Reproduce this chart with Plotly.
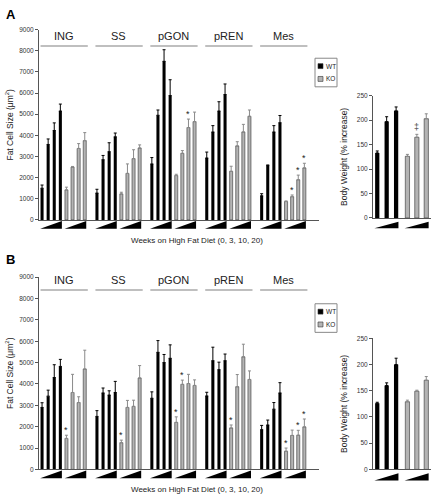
import plotly.graph_objects as go

W, H = 436, 501

groups = ["ING", "SS", "pGON", "pREN", "Mes"]
series_names = ["WT", "KO"]

# Panel A: fat cell size (um^2), 4 time points (0, 3, 10, 20 weeks)
A_wt = [[1500, 3570, 4230, 5150], [1270, 2850, 3230, 3930], [2650, 4950, 7500, 5880],
        [2930, 4160, 5150, 5930], [1140, 2570, 4160, 4600]]
A_wt_err = [[150, 260, 360, 330], [180, 200, 420, 180], [300, 250, 550, 750],
            [280, 300, 440, 500], [100, 30, 300, 340]]
A_ko = [[1420, 2500, 3380, 3750], [1230, 2200, 2900, 3400], [2100, 3150, 4370, 4650],
        [2300, 3500, 4160, 4900], [870, 1100, 1900, 2460]]
A_ko_err = [[130, 30, 230, 380], [80, 450, 420, 150], [60, 130, 400, 450],
            [240, 200, 360, 300], [30, 80, 220, 220]]
A_stars = [(2, 2), (4, 1), (4, 2), (4, 3)]  # (group, KO index)

# Panel B
B_wt = [[2900, 3430, 4300, 4820], [2480, 3580, 3480, 3600], [3330, 5480, 5000, 5200],
        [3440, 5090, 4670, 5090], [1860, 2080, 2820, 3580]]
B_wt_err = [[220, 280, 600, 330], [270, 230, 200, 520], [300, 550, 380, 630],
            [170, 630, 350, 310], [200, 230, 310, 480]]
B_ko = [[1450, 3600, 3130, 4700], [1250, 2900, 2950, 4280], [2200, 3980, 4020, 3930],
        [1940, 3870, 5270, 4210], [850, 1590, 1600, 1990]]
B_ko_err = [[150, 850, 270, 880], [120, 330, 290, 580], [260, 200, 430, 260],
            [140, 570, 590, 400], [150, 250, 230, 370]]
B_stars = [(0, 0), (1, 0), (2, 0), (2, 1), (3, 0), (4, 0), (4, 2), (4, 3)]

# Body weight (% increase), 3 time points
A_bw_wt, A_bw_wt_err = [133, 197, 219], [4, 10, 8]
A_bw_ko, A_bw_ko_err = [126, 165, 203], [4, 6, 10]
A_bw_marks = [(1, "‡")]
B_bw_wt, B_bw_wt_err = [126, 160, 200], [2, 5, 12]
B_bw_ko, B_bw_ko_err = [129, 149, 170], [3, 2, 7]
B_bw_marks = []

fat_ticks = list(range(0, 9001, 1000))
bw_ticks = list(range(0, 251, 50))
xlabel = "Weeks on High Fat Diet (0, 3, 10, 20)"
ylabel_fat = "Fat Cell Size (μm<sup>2</sup>)"
ylabel_bw = "Body Weight (% increase)"

FONT = "Liberation Sans, Arial, sans-serif"
WT_COL = "#000000"
KO_COL = "#b4b4b4"
AX_COL = "#555555"

GSTEP = 9
BW_KO_OFF = 3.2


def px_x(p):
    return p / W


def px_y(p):
    return 1 - p / H


fig = go.Figure()
shapes = []
annots = []

panels = [
    dict(wt=A_wt, wte=A_wt_err, ko=A_ko, koe=A_ko_err, stars=A_stars,
         bw=(A_bw_wt, A_bw_wt_err, A_bw_ko, A_bw_ko_err), bwm=A_bw_marks,
         ydom=(px_y(219), px_y(26)), bwdom=(px_y(217), px_y(93)),
         letter="A", ly=11, xt=240, leg=(315, 55),
         glab=8720, gline=8230),
    dict(wt=B_wt, wte=B_wt_err, ko=B_ko, koe=B_ko_err, stars=B_stars,
         bw=(B_bw_wt, B_bw_wt_err, B_bw_ko, B_bw_ko_err), bwm=B_bw_marks,
         ydom=(px_y(472), px_y(277)), bwdom=(px_y(472), px_y(339)),
         letter="B", ly=259, xt=492, leg=(315, 304),
         glab=8860, gline=8400),
]

layout_axes = {}
for pi, P in enumerate(panels):
    ia = 2 * pi + 1
    ib = 2 * pi + 2
    xn_a = "x" if ia == 1 else f"x{ia}"
    yn_a = "y" if ia == 1 else f"y{ia}"
    xn_b, yn_b = f"x{ib}", f"y{ib}"

    # main fat cell chart
    for s, (vals, errs, col, ecol) in enumerate([(P["wt"], P["wte"], WT_COL, "#000000"),
                                                  (P["ko"], P["koe"], KO_COL, "#8a8a8a")]):
        xs, ys, es = [], [], []
        for g in range(len(groups)):
            for i in range(4):
                xs.append(g * GSTEP + s * 4 + i)
                ys.append(vals[g][i])
                es.append(errs[g][i])
        fig.add_trace(go.Bar(
            x=xs, y=ys, width=0.5, name=series_names[s], showlegend=False,
            marker=dict(color=col, line=dict(color="#333333", width=0.6 if s else 0)),
            error_y=dict(type="data", array=es, arrayminus=[0] * len(es), symmetric=False,
                         color=ecol, thickness=1, width=1.5),
            hoverinfo="skip", xaxis=xn_a, yaxis=yn_a))

    # stars
    for (g, i) in P["stars"]:
        xv = g * GSTEP + 4 + i
        yv = P["ko"][g][i] + P["koe"][g][i]
        annots.append(dict(x=xv, y=yv, xref=xn_a, yref=yn_a, text="*", showarrow=False,
                           xanchor="center", yanchor="bottom", yshift=-2,
                           font=dict(family=FONT, size=9, color="#222")))

    # group labels and lines, wedges
    for g, name in enumerate(groups):
        x0 = g * GSTEP
        annots.append(dict(x=x0 + 3.6, y=P["glab"], xref=xn_a, yref=yn_a, text=name,
                           xanchor="center", yanchor="middle",
                           showarrow=False, font=dict(family=FONT, size=11, color="#222")))
        shapes.append(dict(type="line", x0=x0 - 0.25, x1=x0 + 7.5, y0=P["gline"], y1=P["gline"],
                           xref=xn_a, yref=yn_a, line=dict(color="#aaaaaa", width=1.5)))
        for s in range(2):
            a = x0 + s * 4 - 0.3
            b = x0 + s * 4 + 3.25
            shapes.append(dict(type="path", xref=xn_a, yref=yn_a + " domain",
                               path=f"M {a} -0.046 L {b} -0.046 L {b} -0.006 Z",
                               fillcolor="#000000", line=dict(width=0)))

    # body weight chart
    bwt, bwte, bko, bkoe = P["bw"]
    for s, (vals, errs, col, ecol) in enumerate([(bwt, bwte, WT_COL, "#000000"),
                                                  (bko, bkoe, KO_COL, "#8a8a8a")]):
        xs = [s * BW_KO_OFF + i for i in range(3)]
        fig.add_trace(go.Bar(
            x=xs, y=vals, width=0.45, name=series_names[s], showlegend=False,
            marker=dict(color=col, line=dict(color="#333333", width=0.6 if s else 0)),
            error_y=dict(type="data", array=errs, arrayminus=[0] * 3, symmetric=False,
                         color=ecol, thickness=1, width=1.5),
            hoverinfo="skip", xaxis=xn_b, yaxis=yn_b))
        a = s * BW_KO_OFF - 0.3
        b = s * BW_KO_OFF + 2.25
        shapes.append(dict(type="path", xref=xn_b, yref=yn_b + " domain",
                           path=f"M {a} -0.085 L {b} -0.085 L {b} -0.03 Z",
                           fillcolor="#000000", line=dict(width=0)))
    for (i, mk) in P["bwm"]:
        annots.append(dict(x=BW_KO_OFF + i, y=bko[i] + bkoe[i], xref=xn_b, yref=yn_b,
                           text=mk, showarrow=False, xanchor="center", yanchor="bottom", yshift=0,
                           font=dict(family=FONT, size=9, color="#444")))

    ydom = P["ydom"]
    layout_axes["xaxis" if ia == 1 else f"xaxis{ia}"] = dict(
        domain=[px_x(39), px_x(319)], range=[-0.5, 45.4], showline=True, linecolor=AX_COL,
        linewidth=1, showticklabels=False, ticks="", showgrid=False, zeroline=False,
        fixedrange=True, anchor=yn_a)
    layout_axes["yaxis" if ia == 1 else f"yaxis{ia}"] = dict(
        domain=[ydom[0], ydom[1]], range=[0, 9000], tickvals=fat_ticks, showline=True,
        linecolor=AX_COL, linewidth=1, ticks="outside", ticklen=3, tickcolor=AX_COL,
        tickfont=dict(family=FONT, size=6.5, color="#333"), showgrid=False, zeroline=False,
        title=dict(text=ylabel_fat, font=dict(family=FONT, size=8.5, color="#222"), standoff=4),
        fixedrange=True, anchor=xn_a)
    layout_axes[f"xaxis{ib}"] = dict(
        domain=[px_x(373), px_x(431)], range=[-0.45, 5.7], showline=True, linecolor=AX_COL,
        linewidth=1, showticklabels=False, ticks="", showgrid=False, zeroline=False,
        fixedrange=True, anchor=yn_b)
    layout_axes[f"yaxis{ib}"] = dict(
        domain=[P["bwdom"][0], P["bwdom"][1]], range=[0, 250], tickvals=bw_ticks,
        showline=True, linecolor=AX_COL, linewidth=1, ticks="outside", ticklen=3,
        tickcolor=AX_COL, tickfont=dict(family=FONT, size=6.5, color="#333"),
        title=dict(text=ylabel_bw, font=dict(family=FONT, size=8.5, color="#222"), standoff=7),
        showgrid=False, zeroline=False, fixedrange=True, anchor=xn_b)

    # texts in paper coords
    annots.append(dict(x=px_x(4), y=px_y(P["ly"]), xref="paper", yref="paper",
                       text=f"<b>{P['letter']}</b>", showarrow=False, xanchor="left",
                       yanchor="middle", font=dict(family=FONT, size=13, color="#000")))
    annots.append(dict(x=px_x(197), y=px_y(P["xt"]), xref="paper", yref="paper", text=xlabel,
                       showarrow=False, xanchor="center", yanchor="middle",
                       font=dict(family=FONT, size=8, color="#222")))

    # legend box
    lx, ly = P["leg"]
    shapes.append(dict(type="rect", xref="paper", yref="paper", x0=px_x(lx), x1=px_x(lx + 22),
                       y0=px_y(ly + 29), y1=px_y(ly), line=dict(color="#888", width=1),
                       fillcolor="white"))
    for k, (nm, col) in enumerate(zip(series_names, [WT_COL, KO_COL])):
        cy = ly + 8 + k * 13
        shapes.append(dict(type="rect", xref="paper", yref="paper", x0=px_x(lx + 3), x1=px_x(lx + 8),
                           y0=px_y(cy + 2.5), y1=px_y(cy - 2.5), fillcolor=col,
                           line=dict(color="#333", width=0.6)))
        annots.append(dict(x=px_x(lx + 8.5), y=px_y(cy), xref="paper", yref="paper", text=nm,
                           showarrow=False, xanchor="left", yanchor="middle",
                           font=dict(family=FONT, size=6.5, color="#222")))

fig.update_layout(
    width=W, height=H, margin=dict(l=0, r=0, t=0, b=0),
    paper_bgcolor="white", plot_bgcolor="white", showlegend=False,
    barmode="overlay", shapes=shapes, annotations=annots, **layout_axes)

fig.write_html("out.html", config={"displayModeBar": False},
               post_script="document.body.style.margin='0';document.body.style.overflow='hidden';")
